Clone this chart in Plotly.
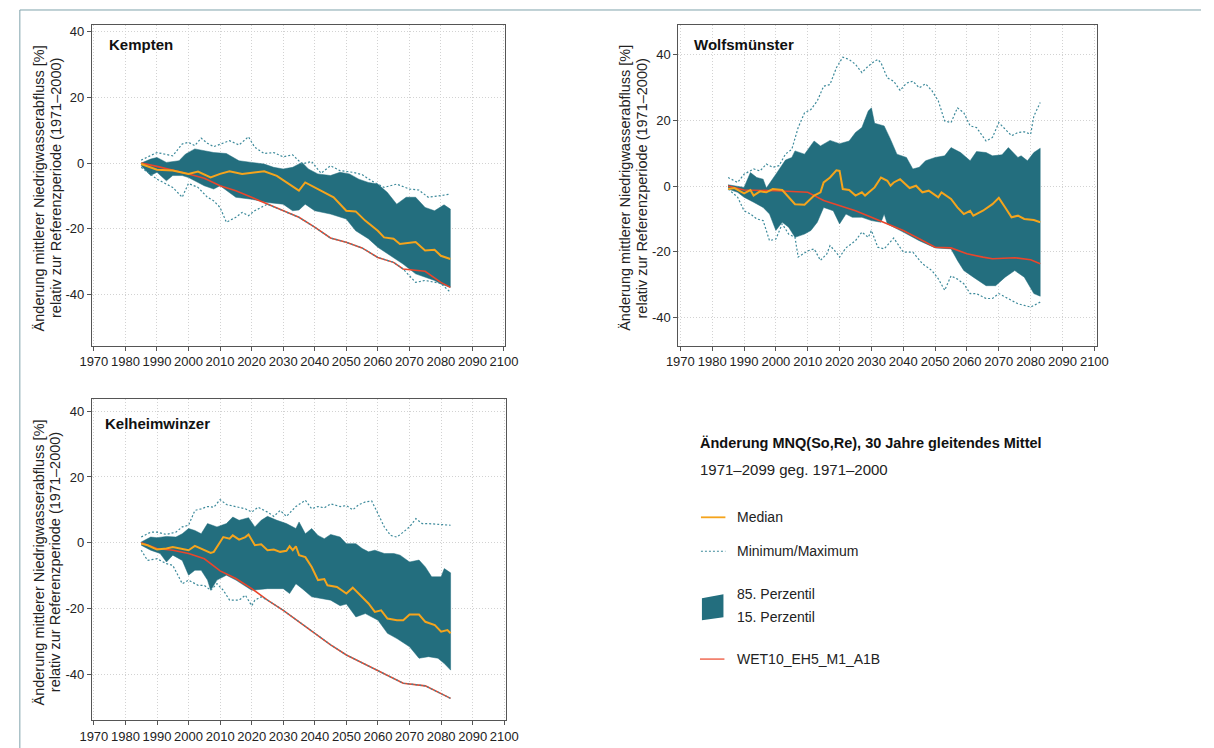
import plotly.graph_objects as go

W, H = 1214, 748
FONT = "Liberation Sans, Arial, sans-serif"

# ---------------- data ----------------
# Kempten
K_MED_X = [1985, 1990, 1995, 2000, 2003, 2007, 2010, 2013, 2017, 2020, 2024, 2028, 2031, 2035, 2037, 2040, 2043, 2046, 2050, 2053, 2056, 2060, 2062, 2065, 2067, 2072, 2075, 2078, 2080, 2083]
K_MED_Y = [-0.3, -2.0, -2.3, -3.3, -2.6, -4.4, -3.3, -2.5, -3.3, -3.0, -2.5, -3.9, -5.9, -8.4, -5.9, -7.4, -9.1, -10.4, -14.5, -14.7, -17.5, -20.6, -22.6, -23.0, -24.6, -24.0, -26.6, -26.4, -28.2, -29.2]
K_RED_X = [1985, 1990, 2000, 2005, 2010, 2015, 2020, 2025, 2030, 2035, 2040, 2045, 2050, 2055, 2060, 2065, 2068, 2075, 2080, 2083]
K_RED_Y = [0.0, -1.0, -3.3, -4.6, -6.9, -8.4, -10.4, -12.5, -14.5, -16.5, -19.5, -22.8, -24.1, -25.8, -28.7, -30.2, -32.2, -32.9, -36.3, -37.8]
K_P85_X = [1985, 1988, 1990, 1993, 1997, 1999, 2002, 2005, 2008, 2012, 2016, 2020, 2024, 2027, 2030, 2033, 2036, 2038, 2041, 2045, 2048, 2051, 2054, 2057, 2060, 2063, 2066, 2069, 2072, 2075, 2078, 2081, 2083]
K_P85_Y = [0.0, 1.2, 1.7, 0.2, 0.7, 2.7, 4.3, 3.7, 3.2, 2.9, 0.7, 0.2, -0.3, -1.3, -1.8, -1.3, 0.2, -1.8, -3.3, -3.8, -2.8, -3.3, -4.9, -5.9, -6.4, -8.9, -12.5, -10.4, -10.4, -13.5, -14.5, -12.7, -14.0]
K_P15_X = [1985, 1988, 1990, 1993, 1995, 1998, 2000, 2005, 2008, 2010, 2015, 2020, 2025, 2030, 2033, 2035, 2037, 2040, 2045, 2050, 2053, 2057, 2060, 2065, 2068, 2072, 2075, 2078, 2080, 2083]
K_P15_Y = [-0.8, -3.8, -2.8, -5.4, -3.8, -3.8, -4.4, -6.9, -7.9, -6.9, -10.4, -11.0, -12.0, -12.5, -14.5, -14.3, -12.5, -14.5, -15.5, -17.0, -20.6, -23.0, -25.6, -28.7, -30.7, -33.7, -34.7, -35.7, -36.8, -37.8]
K_MAX_X = [1985, 1990, 1995, 1998, 2000, 2002, 2004, 2006, 2008, 2010, 2013, 2016, 2019, 2021, 2024, 2027, 2030, 2033, 2036, 2039, 2042, 2045, 2048, 2052, 2055, 2058, 2062, 2066, 2070, 2073, 2076, 2080, 2083]
K_MAX_Y = [0.9, 3.2, 2.2, 5.8, 6.3, 5.3, 7.6, 6.0, 5.0, 5.8, 6.8, 5.5, 8.0, 4.8, 2.9, 3.2, 1.9, 2.5, -0.3, 0.5, -3.1, -0.8, -2.3, -2.8, -3.5, -5.4, -7.4, -6.4, -7.9, -8.2, -10.4, -9.9, -9.4]
K_MIN_X = [1985, 1990, 1995, 1998, 2000, 2003, 2006, 2008, 2010, 2012, 2015, 2017, 2019, 2021, 2023, 2025, 2030, 2035, 2040, 2045, 2050, 2055, 2060, 2065, 2068, 2072, 2075, 2080, 2083]
K_MIN_Y = [-1.3, -4.9, -7.4, -10.4, -6.2, -7.4, -10.4, -11.5, -13.5, -18.0, -16.5, -15.0, -16.0, -14.5, -13.5, -12.5, -14.5, -16.5, -19.5, -22.8, -24.1, -25.8, -28.7, -30.2, -32.2, -36.3, -35.7, -36.6, -39.3]

# Wolfsmünster
W_MED_X = [1985, 1987, 1990, 1992, 1993, 1995, 1997, 1999, 2002, 2004, 2006, 2009, 2012, 2014, 2015, 2017, 2019, 2020, 2021, 2023, 2025, 2027, 2028, 2031, 2033, 2035, 2036, 2037, 2039, 2042, 2044, 2046, 2048, 2051, 2052, 2055, 2057, 2059, 2061, 2062, 2065, 2068, 2070, 2072, 2074, 2076, 2078, 2081, 2083]
W_MED_Y = [-0.9, -0.6, -2.2, -1.2, -2.9, -1.6, -1.9, -0.9, -1.2, -3.4, -5.5, -5.7, -2.9, -1.9, 1.1, 2.6, 4.8, 4.6, -0.9, -1.2, -2.9, -1.9, -2.9, -0.4, 2.6, 1.6, 0.1, 1.1, 2.1, -0.6, 0.1, -1.9, -1.4, -3.4, -1.9, -3.9, -6.5, -8.5, -7.5, -9.0, -7.5, -5.5, -3.6, -6.5, -9.5, -9.0, -10.0, -10.3, -11.0]
W_RED_X = [1985, 1990, 2000, 2010, 2015, 2020, 2025, 2030, 2035, 2040, 2045, 2050, 2055, 2060, 2065, 2068, 2075, 2080, 2083]
W_RED_Y = [0.0, -1.2, -1.4, -1.9, -4.4, -6.0, -7.5, -9.5, -11.5, -13.5, -16.0, -18.6, -18.8, -20.6, -21.6, -22.1, -21.8, -22.4, -23.6]
W_P85_X = [1985, 1988, 1990, 1992, 1994, 1996, 1997, 2000, 2003, 2005, 2006, 2009, 2012, 2014, 2017, 2020, 2023, 2025, 2027, 2029, 2030, 2031, 2034, 2036, 2038, 2041, 2043, 2045, 2047, 2050, 2053, 2055, 2058, 2061, 2063, 2066, 2068, 2071, 2073, 2076, 2077, 2079, 2081, 2083]
W_P85_Y = [0.4, 0.0, -0.4, 4.1, 2.6, 2.1, -0.6, 3.6, 7.9, 8.7, 10.7, 9.7, 13.7, 12.2, 13.9, 12.9, 13.7, 16.3, 17.8, 22.8, 23.8, 19.1, 18.3, 14.2, 9.7, 8.7, 5.2, 5.7, 7.7, 8.7, 9.2, 11.7, 10.2, 7.7, 10.5, 10.2, 9.2, 9.5, 11.7, 8.7, 9.2, 7.7, 10.2, 11.5]
W_P15_X = [1985, 1988, 1990, 1993, 1996, 1998, 2000, 2002, 2004, 2006, 2009, 2011, 2013, 2015, 2018, 2020, 2022, 2024, 2027, 2030, 2033, 2034, 2035, 2040, 2045, 2050, 2055, 2057, 2059, 2062, 2066, 2069, 2072, 2075, 2078, 2081, 2083]
W_P15_Y = [-0.9, -1.9, -3.4, -4.9, -6.5, -8.5, -13.5, -11.0, -12.5, -15.6, -14.6, -13.5, -11.0, -6.5, -7.5, -11.5, -8.5, -9.5, -9.5, -10.5, -11.0, -8.5, -11.5, -14.0, -16.6, -18.8, -19.1, -22.6, -25.7, -27.7, -30.3, -30.3, -27.7, -25.7, -27.7, -32.7, -33.5]
W_MAX_X = [1985, 1988, 1990, 1993, 1995, 1997, 1999, 2001, 2003, 2005, 2007, 2009, 2011, 2013, 2015, 2017, 2019, 2021, 2023, 2025, 2027, 2029, 2031, 2032, 2033, 2035, 2037, 2039, 2041, 2043, 2045, 2047, 2049, 2051, 2053, 2055, 2057, 2059, 2061, 2063, 2066, 2068, 2070, 2072, 2074, 2076, 2078, 2080, 2081, 2083]
W_MAX_Y = [2.6, 1.1, 3.6, 5.2, 4.6, 6.7, 5.7, 6.2, 9.7, 11.2, 17.8, 22.3, 23.3, 25.9, 30.4, 30.9, 36.0, 39.2, 38.5, 37.0, 34.5, 36.5, 38.0, 38.5, 37.5, 32.9, 31.9, 29.1, 31.3, 31.9, 29.9, 31.1, 29.0, 25.9, 19.8, 19.3, 23.8, 22.3, 18.3, 17.8, 13.7, 14.8, 19.3, 17.3, 15.3, 16.3, 16.5, 15.8, 21.3, 25.4]
W_MIN_X = [1985, 1988, 1990, 1992, 1994, 1996, 1998, 2000, 2002, 2004, 2006, 2007, 2010, 2012, 2014, 2016, 2017, 2019, 2020, 2022, 2025, 2027, 2029, 2030, 2032, 2034, 2037, 2040, 2043, 2046, 2049, 2051, 2053, 2055, 2057, 2059, 2061, 2063, 2066, 2068, 2070, 2072, 2074, 2076, 2078, 2080, 2082, 2083]
W_MIN_Y = [-0.9, -3.4, -7.5, -8.5, -10.0, -10.5, -16.6, -16.1, -11.5, -14.6, -15.6, -21.6, -19.7, -19.1, -22.6, -20.6, -18.1, -20.2, -21.6, -18.8, -16.6, -14.0, -15.6, -13.5, -18.6, -19.1, -15.8, -20.1, -20.1, -23.6, -25.7, -28.2, -31.7, -27.3, -28.3, -29.7, -32.7, -32.7, -34.2, -34.2, -32.7, -33.7, -34.7, -35.8, -36.3, -36.8, -35.8, -35.3]

# Kelheimwinzer
H_MED_X = [1985, 1987, 1990, 1993, 1995, 1998, 2000, 2002, 2004, 2007, 2008, 2011, 2013, 2014, 2016, 2018, 2019, 2021, 2023, 2025, 2027, 2029, 2031, 2032, 2033, 2034, 2035, 2037, 2039, 2041, 2043, 2044, 2047, 2050, 2052, 2054, 2057, 2059, 2061, 2063, 2066, 2068, 2070, 2073, 2075, 2078, 2080, 2082, 2083]
H_MED_Y = [-0.3, -0.8, -2.1, -1.8, -1.3, -1.8, -2.3, -1.0, -1.8, -3.1, -2.8, 1.7, 1.2, 2.2, 0.9, 1.7, 2.5, -0.8, -0.5, -2.3, -2.1, -2.8, -2.5, -1.1, -2.3, -1.1, -3.8, -4.4, -7.4, -11.4, -11.1, -13.0, -13.5, -15.5, -13.7, -15.7, -18.5, -21.1, -20.6, -23.1, -23.6, -23.6, -21.9, -21.9, -24.1, -25.1, -27.1, -26.6, -27.6]
H_RED_X = [1985, 1990, 1995, 2000, 2005, 2010, 2015, 2020, 2025, 2030, 2035, 2040, 2045, 2050, 2055, 2060, 2065, 2068, 2075, 2080, 2083]
H_RED_Y = [0.0, -1.8, -2.3, -3.3, -4.9, -8.6, -10.9, -14.0, -17.5, -20.6, -24.1, -27.6, -31.1, -34.2, -36.6, -38.8, -41.3, -42.8, -43.6, -45.9, -47.4]
H_P85_X = [1985, 1988, 1990, 1993, 1996, 1998, 2000, 2002, 2004, 2006, 2009, 2012, 2014, 2016, 2019, 2021, 2023, 2025, 2028, 2031, 2034, 2035, 2037, 2039, 2041, 2043, 2045, 2048, 2050, 2053, 2055, 2057, 2059, 2062, 2065, 2067, 2070, 2073, 2075, 2077, 2080, 2081, 2083]
H_P85_Y = [0.2, 1.7, 1.5, 1.9, 1.7, 2.7, 4.3, 3.7, 2.7, 5.8, 4.8, 5.8, 7.8, 6.8, 7.6, 4.8, 6.8, 8.0, 6.8, 5.8, 4.3, 6.3, 2.7, 4.3, 2.2, 1.2, 2.5, 1.7, -0.3, -0.3, -1.8, -2.8, -2.3, -3.3, -3.3, -3.8, -5.9, -5.3, -7.4, -10.4, -10.4, -7.9, -9.2]
H_P15_X = [1985, 1988, 1991, 1993, 1995, 1998, 2000, 2002, 2004, 2006, 2007, 2009, 2012, 2015, 2020, 2025, 2030, 2032, 2034, 2036, 2039, 2042, 2045, 2048, 2050, 2053, 2056, 2060, 2063, 2066, 2070, 2073, 2076, 2079, 2081, 2083]
H_P15_Y = [-0.8, -2.3, -3.3, -5.9, -3.8, -5.4, -9.9, -8.4, -8.4, -11.4, -14.5, -11.4, -9.9, -11.4, -14.5, -14.0, -14.0, -15.5, -12.5, -14.0, -16.5, -17.0, -17.5, -19.2, -18.7, -22.6, -21.6, -23.6, -27.6, -29.2, -31.7, -35.2, -34.7, -35.2, -36.8, -38.8]
H_MAX_X = [1985, 1988, 1990, 1993, 1996, 1998, 2000, 2002, 2004, 2006, 2008, 2010, 2012, 2015, 2018, 2020, 2022, 2025, 2027, 2029, 2031, 2034, 2037, 2039, 2041, 2043, 2045, 2048, 2050, 2052, 2054, 2056, 2058, 2060, 2062, 2064, 2066, 2068, 2070, 2072, 2074, 2076, 2078, 2080, 2083]
H_MAX_Y = [1.7, 3.2, 3.2, 2.5, 3.2, 4.8, 5.3, 9.8, 10.3, 11.0, 10.8, 13.1, 11.6, 11.0, 10.3, 9.3, 10.8, 9.3, 8.0, 9.8, 8.0, 11.0, 12.9, 10.3, 11.0, 10.6, 11.8, 11.0, 11.3, 10.0, 11.6, 12.4, 12.7, 8.8, 4.8, 2.2, 1.7, 3.2, 4.8, 7.3, 5.8, 5.8, 5.6, 5.6, 5.3]
H_MIN_X = [1985, 1987, 1990, 1993, 1995, 1998, 2000, 2003, 2005, 2007, 2009, 2011, 2013, 2016, 2018, 2020, 2021, 2023, 2025, 2030, 2035, 2040, 2045, 2050, 2055, 2060, 2065, 2068, 2075, 2080, 2083]
H_MIN_Y = [-2.3, -5.4, -4.9, -6.4, -6.9, -12.5, -11.4, -13.0, -13.0, -14.5, -12.5, -14.5, -17.5, -17.5, -16.0, -19.2, -17.5, -16.5, -17.5, -20.6, -24.1, -27.6, -31.1, -34.2, -36.6, -38.8, -41.3, -42.8, -43.6, -45.9, -47.4]

STATIONS = ["Kempten", "Wolfsmünster", "Kelheimwinzer"]
X_TICKS = [1970, 1980, 1990, 2000, 2010, 2020, 2030, 2040, 2050, 2060, 2070, 2080, 2090, 2100]
Y_TICKS = [-40, -20, 0, 20, 40]
Y_TICK_TEXT = ["-40", "-20", "0", "20", "40"]
Y_TITLE_1 = "Änderung mittlerer Niedrigwasserabfluss [%]"
Y_TITLE_2 = "relativ zur Referenzperiode (1971–2000)"
LEG_TITLE = "Änderung MNQ(So,Re), 30 Jahre gleitendes Mittel"
LEG_SUB = "1971–2099 geg. 1971–2000"
LEG_ITEMS = ["Median", "Minimum/Maximum", "85. Perzentil", "15. Perzentil", "WET10_EH5_M1_A1B"]

# ---------------- styling ----------------
C_BAND = "#236e7e"
C_MED = "#f5a41c"
C_RED = "#e9462c"
C_DOT = "#3d8a9b"
C_LEG_RED = "#f2826f"


def px(x):
    return x / W


def py(y):
    return 1 - y / H


panels = [
    dict(name=STATIONS[0], dx=(80.7, 503.0), dy=(24, 345), xr=(1969.4, 2100.4), yr=(-55.5, 42.0),
         med=(K_MED_X, K_MED_Y), red=(K_RED_X, K_RED_Y), p85=(K_P85_X, K_P85_Y), p15=(K_P15_X, K_P15_Y),
         mx=(K_MAX_X, K_MAX_Y), mn=(K_MIN_X, K_MIN_Y), title_xy=(96, 44)),
    dict(name=STATIONS[1], dx=(680.0, 1107.3), dy=(24, 345), xr=(1969.4, 2100.7), yr=(-48.5, 49.0),
         med=(W_MED_X, W_MED_Y), red=(W_RED_X, W_RED_Y), p85=(W_P85_X, W_P85_Y), p15=(W_P15_X, W_P15_Y),
         mx=(W_MAX_X, W_MAX_Y), mn=(W_MIN_X, W_MIN_Y), title_xy=(694, 44)),
    dict(name=STATIONS[2], dx=(80.7, 503.3), dy=(398.3, 720), xr=(1969.4, 2100.4), yr=(-54.0, 43.8),
         med=(H_MED_X, H_MED_Y), red=(H_RED_X, H_RED_Y), p85=(H_P85_X, H_P85_Y), p15=(H_P15_X, H_P15_Y),
         mx=(H_MAX_X, H_MAX_Y), mn=(H_MIN_X, H_MIN_Y), title_xy=(92, 423)),
]

fig = go.Figure()
annotations = []
shapes = []

for i, p in enumerate(panels):
    sfx = "" if i == 0 else str(i + 1)
    xa, ya = "x" + sfx, "y" + sfx
    bx = list(p["p85"][0]) + list(reversed(p["p15"][0]))
    by = list(p["p85"][1]) + list(reversed(p["p15"][1]))
    fig.add_trace(go.Scatter(x=bx, y=by, fill="toself", fillcolor=C_BAND, mode="lines",
                             line=dict(width=0.5, color=C_BAND), xaxis=xa, yaxis=ya,
                             showlegend=False, hoverinfo="skip"))
    fig.add_trace(go.Scatter(x=p["red"][0], y=p["red"][1], mode="lines",
                             line=dict(color=C_RED, width=1.6), xaxis=xa, yaxis=ya, showlegend=False))
    for key in ("mx", "mn"):
        fig.add_trace(go.Scatter(x=p[key][0], y=p[key][1], mode="lines",
                                 line=dict(color=C_DOT, width=1.2, dash="2px,2px"),
                                 xaxis=xa, yaxis=ya, showlegend=False))
    fig.add_trace(go.Scatter(x=p["med"][0], y=p["med"][1], mode="lines",
                             line=dict(color=C_MED, width=2), xaxis=xa, yaxis=ya, showlegend=False))

    common = dict(showline=True, linecolor="#555555", linewidth=1.2, mirror=True,
                  showgrid=True, gridcolor="#d2d2d2", griddash="1px,2px", gridwidth=1,
                  zeroline=False, ticks="outside", ticklen=4, tickcolor="#555555", tickangle=0,
                  tickfont=dict(family=FONT, size=13, color="#222222"))
    fig.layout["xaxis" + sfx] = dict(domain=[px(p["dx"][0]), px(p["dx"][1])], range=list(p["xr"]),
                                     tickvals=X_TICKS, anchor=ya, **common)
    fig.layout["yaxis" + sfx] = dict(domain=[py(p["dy"][1]), py(p["dy"][0])], range=list(p["yr"]),
                                     tickvals=Y_TICKS, ticktext=Y_TICK_TEXT, anchor=xa, **common)
    annotations.append(dict(x=px(p["title_xy"][0]), y=py(p["title_xy"][1]), xref="paper", yref="paper",
                            text="<b>%s</b>" % p["name"], showarrow=False, xanchor="left", yanchor="middle",
                            font=dict(family=FONT, size=15, color="#111111")))
    yc = (p["dy"][0] + p["dy"][1]) / 2 + 3
    x0 = p["dx"][0] - 54
    annotations.append(dict(x=px(x0), y=py(yc), xref="paper", yref="paper", text=Y_TITLE_1,
                            textangle=-90, showarrow=False, xanchor="center", yanchor="middle",
                            font=dict(family=FONT, size=14.5, color="#222222")))
    annotations.append(dict(x=px(x0 + 17), y=py(yc), xref="paper", yref="paper", text=Y_TITLE_2,
                            textangle=-90, showarrow=False, xanchor="center", yanchor="middle",
                            font=dict(family=FONT, size=14.5, color="#222222")))

# legend block
annotations.append(dict(x=px(700), y=py(443), xref="paper", yref="paper", text="<b>%s</b>" % LEG_TITLE,
                        showarrow=False, xanchor="left", yanchor="middle",
                        font=dict(family=FONT, size=14.5, color="#111111")))
annotations.append(dict(x=px(700), y=py(469), xref="paper", yref="paper", text=LEG_SUB,
                        showarrow=False, xanchor="left", yanchor="middle",
                        font=dict(family=FONT, size=15, color="#222222")))
leg_rows = [(LEG_ITEMS[0], 517), (LEG_ITEMS[1], 551), (LEG_ITEMS[2], 594), (LEG_ITEMS[3], 617), (LEG_ITEMS[4], 659)]
for txt, yy in leg_rows:
    annotations.append(dict(x=px(738), y=py(yy), xref="paper", yref="paper", text=txt,
                            showarrow=False, xanchor="left", yanchor="middle",
                            font=dict(family=FONT, size=14, color="#222222")))
shapes.append(dict(type="line", xref="paper", yref="paper", x0=px(703), x1=px(728), y0=py(517), y1=py(517),
                   line=dict(color=C_MED, width=1.8)))
shapes.append(dict(type="line", xref="paper", yref="paper", x0=px(703), x1=px(728), y0=py(551), y1=py(551),
                   line=dict(color=C_DOT, width=1.2, dash="2px,2px")))
shapes.append(dict(type="path", xref="paper", yref="paper",
                   path="M %f %f L %f %f L %f %f L %f %f Z" % (px(704), py(598), px(726), py(594),
                                                              px(726), py(617), px(704), py(620)),
                   fillcolor=C_BAND, line=dict(width=0)))
shapes.append(dict(type="line", xref="paper", yref="paper", x0=px(702), x1=px(727), y0=py(659), y1=py(659),
                   line=dict(color=C_LEG_RED, width=1.8)))
# outer frame
shapes.append(dict(type="line", xref="paper", yref="paper", x0=px(7), x1=1, y0=py(9), y1=py(9),
                   line=dict(color="#7fa3ab", width=1)))
shapes.append(dict(type="line", xref="paper", yref="paper", x0=px(7), x1=px(7), y0=py(9), y1=0,
                   line=dict(color="#7fa3ab", width=1)))

fig.update_layout(width=W, height=H, margin=dict(l=0, r=0, t=0, b=0),
                  paper_bgcolor="white", plot_bgcolor="white",
                  annotations=annotations, shapes=shapes, showlegend=False,
                  font=dict(family=FONT))

fig.write_html("out.html", config={"displayModeBar": False},
               post_script="document.body.style.margin='0';document.body.style.overflow='hidden';")
